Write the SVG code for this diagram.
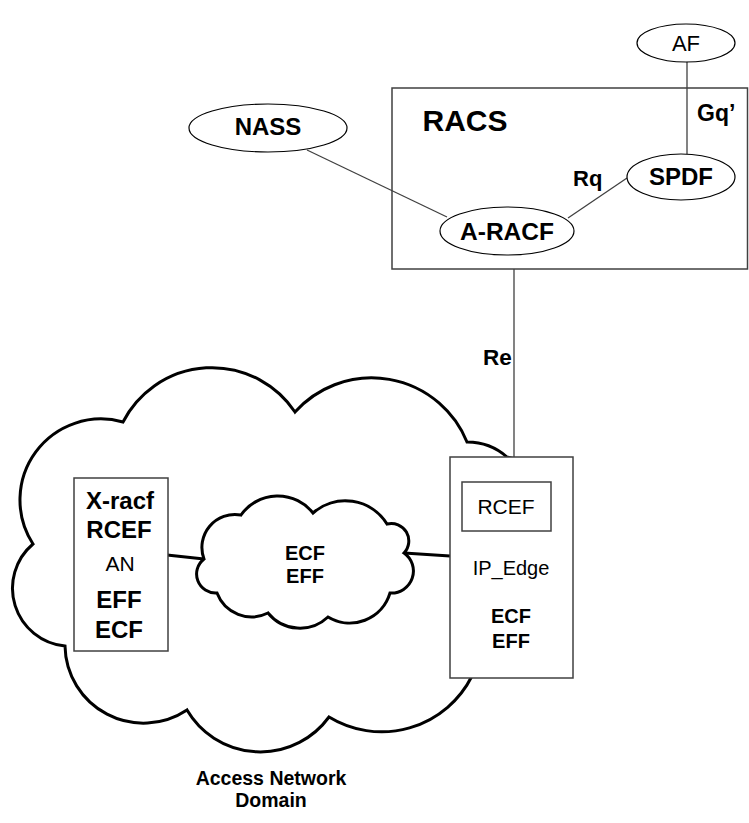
<svg xmlns="http://www.w3.org/2000/svg" width="749" height="823" viewBox="0 0 749 823">
<style>
text{font-family:"Liberation Sans",Arial,sans-serif;fill:#000;text-anchor:middle}
.b{font-weight:bold}
.box{fill:#fff;stroke:#404040;stroke-width:1.5}
.ell{fill:#fff;stroke:#000;stroke-width:1.2}
.thin{stroke:#404040;stroke-width:1.3;fill:none}
.cloud{fill:#fff;stroke:#000;stroke-width:3;stroke-linejoin:miter}
.thick{stroke:#000;stroke-width:3;fill:none}
</style>
<rect width="749" height="823" fill="#fff"/>
<g id="racs">
<rect class="box" x="392" y="88" width="355.5" height="181"/>
<text class="b" x="465" y="131" font-size="30">RACS</text>
</g>
<g id="access-cloud">
<path class="cloud" d="M123,422 A100,100 0 0 1 295,412 A103,103 0 0 1 467,442 A60,60 0 0 1 507,457 L560,470 L560,665 L472,676 A101,101 0 0 1 329,717 A85,85 0 0 1 187,710 A78.5,78.5 0 0 1 65,646 A58,58 0 0 1 33,544 A81,81 0 0 1 123,422 Z"/>
<text class="b" x="271" y="785" font-size="19.5">Access Network</text>
<text class="b" x="271" y="807" font-size="19.5">Domain</text>
</g>
<g id="connectors">
<line class="thin" x1="687" y1="61" x2="687" y2="154"/>
<line class="thin" x1="568" y1="218" x2="627" y2="178"/>
<line class="thin" x1="307" y1="150" x2="447" y2="217"/>
<line class="thin" x1="514" y1="269" x2="514" y2="482"/>
<line class="thick" x1="167" y1="555" x2="204" y2="559"/>
<line class="thick" x1="404" y1="553" x2="450" y2="556"/>
<text class="b" x="573" y="186" font-size="22" style="text-anchor:start">Rq</text>
<text class="b" x="697" y="121" font-size="23" style="text-anchor:start">Gq’</text>
<text class="b" x="483" y="365" font-size="22.5" style="text-anchor:start">Re</text>
</g>
<g id="af">
<ellipse class="ell" cx="686" cy="43" rx="49" ry="19"/>
<text x="686" y="51" font-size="22">AF</text>
</g>
<g id="spdf">
<ellipse class="ell" cx="681" cy="177" rx="54" ry="23"/>
<text class="b" x="681" y="185" font-size="24">SPDF</text>
</g>
<g id="a-racf">
<ellipse class="ell" cx="507" cy="231" rx="67" ry="24"/>
<text class="b" x="507" y="240" font-size="24.5">A-RACF</text>
</g>
<g id="nass">
<ellipse class="ell" cx="268" cy="128" rx="79" ry="24"/>
<text class="b" x="268" y="135" font-size="24">NASS</text>
</g>
<g id="an">
<rect class="box" x="74" y="478" width="94" height="173"/>
<text class="b" x="120" y="509" font-size="24">X-racf</text>
<text class="b" x="119" y="538" font-size="24">RCEF</text>
<text x="120" y="571" font-size="21">AN</text>
<text class="b" x="119" y="608" font-size="24">EFF</text>
<text class="b" x="119" y="638" font-size="24">ECF</text>
</g>
<g id="core-cloud">
<path class="cloud" d="M204,559 A33,33 0 0 1 241,515 A45,45 0 0 1 313,513 A49,49 0 0 1 387,524 A17.5,17.5 0 0 1 404,553 A22,22 0 0 1 390,593 A42,42 0 0 1 328,617 A41,41 0 0 1 268,613 A37,37 0 0 1 217,593 A19,19 0 0 1 204,559 Z"/>
<text class="b" x="305" y="560" font-size="20">ECF</text>
<text class="b" x="305" y="583" font-size="20">EFF</text>
</g>
<g id="ip-edge">
<rect class="box" x="450" y="457" width="123" height="221"/>
<rect class="box" x="462" y="482" width="89" height="49"/>
<text x="506" y="514" font-size="21">RCEF</text>
<text x="511" y="575" font-size="20">IP_Edge</text>
<text class="b" x="511" y="623" font-size="20">ECF</text>
<text class="b" x="511" y="648" font-size="20">EFF</text>
</g>
</svg>
